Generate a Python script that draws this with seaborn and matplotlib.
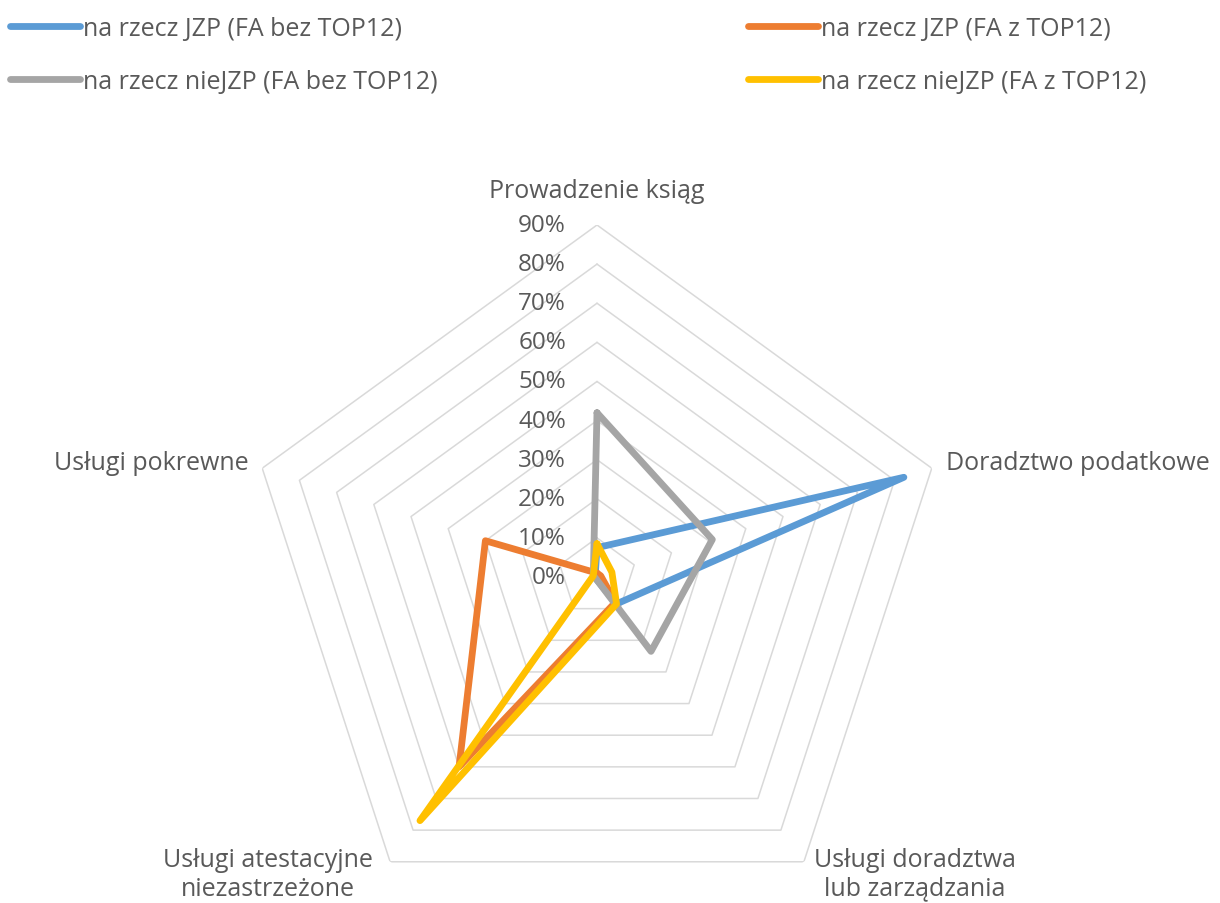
import numpy as np
import pandas as pd
import seaborn as sns
import matplotlib
matplotlib.use("Agg")
import matplotlib.pyplot as plt
from matplotlib.lines import Line2D

# categories (clockwise from the top)
categories = ["Prowadzenie ksiąg", "Doradztwo podatkowe",
              "Usługi doradztwa\nlub zarządzania",
              "Usługi atestacyjne\nniezastrzeżone", "Usługi pokrewne"]

# values in %
jzp_bez = [7.5, 82.5, 8.5, 0.5, 0.5]
jzp_z = [1.0, 1.0, 8.0, 60.0, 30.0]
niejzp_bez = [42.0, 31.0, 23.5, 0.5, 1.0]
niejzp_z = [8.5, 4.0, 8.5, 77.0, 1.0]

series_names = ["na rzecz JZP (FA bez TOP12)", "na rzecz JZP (FA z TOP12)",
                "na rzecz nieJZP (FA bez TOP12)", "na rzecz nieJZP (FA z TOP12)"]
series_values = [jzp_bez, jzp_z, niejzp_bez, niejzp_z]
colors = ["#5b9bd5", "#ed7d31", "#a5a5a5", "#ffc000"]

levels = [0, 10, 20, 30, 40, 50, 60, 70, 80, 90]

sns.set_theme(style="white")
plt.rcParams["font.family"] = ["Open Sans", "DejaVu Sans"]
text_color = "#595959"
fs = 18

n = len(categories)
theta = np.linspace(0, 2 * np.pi, n, endpoint=False)
theta_closed = np.append(theta, 2 * np.pi)

# long-form table for seaborn (closed loops)
rows = []
for name, vals in zip(series_names, series_values):
    closed = list(vals) + [vals[0]]
    for t, v in zip(theta_closed, closed):
        rows.append({"theta": t, "value": v, "series": name})
df = pd.DataFrame(rows)

fig = plt.figure(figsize=(12.2, 9.04), dpi=100)
W, H = 1220, 904
cx, cy, R = 597, 578, 352
ax = fig.add_axes([(cx - R) / W, (H - cy - R) / H, 2 * R / W, 2 * R / H],
                  projection="polar")
ax.set_theta_offset(np.pi / 2)
ax.set_theta_direction(-1)
ax.set_ylim(0, 90)
ax.grid(False)
ax.spines["polar"].set_visible(False)
ax.set_xticks([])
ax.set_yticks([])
ax.patch.set_alpha(0)

# pentagon gridlines
for lev in levels[1:]:
    ax.plot(theta_closed, [lev] * (n + 1), color="#d9d9d9", lw=1.1, zorder=1)

# series
sns.lineplot(data=df, x="theta", y="value", hue="series", palette=colors,
             hue_order=series_names, sort=False, estimator=None, ax=ax,
             lw=4.9, legend=False, solid_joinstyle="round",
             solid_capstyle="round", zorder=3)
ax.set_xlabel("")
ax.set_ylabel("")

# radial tick labels
for lev in levels:
    ax.annotate(f"{lev}%", xy=(0, lev), xytext=(-31, 0),
                textcoords="offset pixels", ha="right", va="center",
                fontsize=17.5, color=text_color, zorder=4)

# category labels
offsets = [(0, 34, "center"), (14, 6, "left"), (111, -12, "center"),
           (-122, -12, "center"), (-14, 6, "right")]
for t, lab, (dx, dy, ha) in zip(theta, categories, offsets):
    ax.annotate(lab, xy=(t, 90), xytext=(dx, dy), textcoords="offset pixels",
                ha=ha, va="center", multialignment="center",
                fontsize=fs, color=text_color, linespacing=1.2)

# legend (row-wise: blue, orange / gray, yellow)
handles = [Line2D([], [], color=c, lw=4.9, solid_capstyle="round") for c in colors]
order = [0, 2, 1, 3]
fig.legend([handles[i] for i in order], [series_names[i] for i in order],
           loc="upper left", bbox_to_anchor=(-0.006, 1.001), ncol=2, frameon=False,
           fontsize=fs, labelcolor=text_color, handlelength=2.8,
           handletextpad=0.12, columnspacing=12.4, labelspacing=1.12,
           borderaxespad=0.3)

fig.savefig("out.png", dpi=100)
